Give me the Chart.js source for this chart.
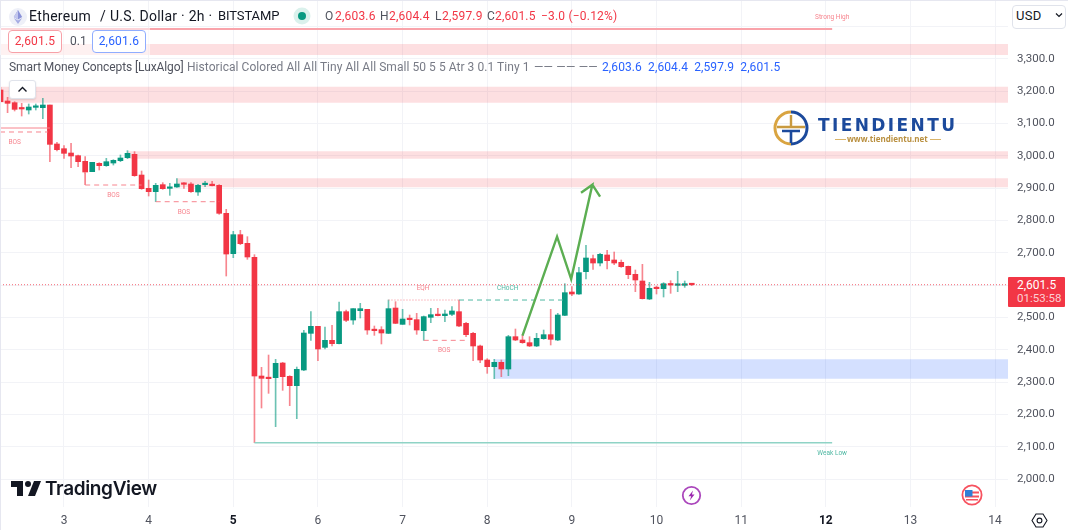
<!DOCTYPE html>
<html lang="en">
<head>
  <meta charset="UTF-8">
  <title>Ethereum / U.S. Dollar 2h</title>
  <script src="https://cdn.jsdelivr.net/npm/chart.js"></script>
  <style>
    html, body { margin: 0; padding: 0; background: #fff; overflow: hidden; }
    #wrap { position: relative; width: 1068px; height: 530px; font-family: Roboto, sans-serif; color: #131722; overflow: hidden; }
    #chart { position: absolute; left: 0; top: 0; }
    .abs { position: absolute; white-space: nowrap; }
    .dn { color: #f23645; }
    .gr { color: #50535e; }
    .box { position: absolute; top: 30px; height: 21px; line-height: 21px; width: 52px; text-align: center; background: #fff; border-radius: 4px; font-size: 12px; letter-spacing: .2px; }
    .ohlc { position: absolute; top: 8px; font-size: 12px; line-height: 16px; letter-spacing: .2px; white-space: nowrap; }
    .row3 { position: absolute; top: 59px; font-size: 12px; line-height: 17px; white-space: nowrap; }
  </style>
</head>
<body>
<div id="wrap">
  <canvas id="chart" width="1068" height="530"></canvas>

  <div class="abs" style="left:0;top:0;width:1068px;height:1px;background:#e6e7f0"></div>
  <div class="abs" style="left:0;top:0;width:1px;height:530px;background:#e6e7f0"></div>

  <!-- header -->
  <svg class="abs" style="left:8px;top:7px" width="20" height="20" viewBox="0 0 20 20">
    <circle cx="10" cy="10" r="9" fill="#eef0f8"/>
    <path d="M10 3l4.2 7L10 12.6 5.8 10z" fill="#8a92d8"/>
    <path d="M10 3v9.6L5.8 10z" fill="#c3c7ee"/>
    <path d="M10 13.6l4.2-2.6L10 17l-4.2-6z" fill="#a6ace3"/>
  </svg>
  <div class="abs" style="left:29px;top:7px;font-size:14px;line-height:18px;letter-spacing:.3px">Ethereum</div>
  <div class="abs" style="left:100px;top:7px;font-size:14px;line-height:18px;letter-spacing:.1px">/</div>
  <div class="abs" style="left:110px;top:7px;font-size:14px;line-height:18px;letter-spacing:.25px">U.S. Dollar · 2h ·</div>
  <div class="abs" style="left:218px;top:7px;font-size:13px;line-height:18px;letter-spacing:-.1px">BITSTAMP</div>
  <svg class="abs" style="left:293px;top:7px" width="18" height="18"><circle cx="9" cy="9" r="8.5" fill="#daf1ec"/><circle cx="9" cy="9" r="4" fill="#089981"/></svg>
  <span class="ohlc gr" style="left:325px">O</span><span class="ohlc dn" style="left:335px">2,603.6</span>
  <span class="ohlc gr" style="left:380px">H</span><span class="ohlc dn" style="left:389px">2,604.4</span>
  <span class="ohlc gr" style="left:435px">L</span><span class="ohlc dn" style="left:442px">2,597.9</span>
  <span class="ohlc gr" style="left:487px">C</span><span class="ohlc dn" style="left:495px">2,601.5</span>
  <span class="ohlc dn" style="left:541px">−3.0 (−0.12%)</span>

  <div class="abs" style="left:0;top:28px;width:150px;height:27px;background:rgba(255,255,255,.55)"></div>
  <div class="box dn" style="left:8px;border:1px solid #f7a1a8">2,601.5</div>
  <div class="abs gr" style="left:70px;top:33px;font-size:12px;line-height:16px">0.1</div>
  <div class="box" style="left:92px;color:#2962ff;border:1px solid #8fadff">2,601.6</div>

  <div class="row3" style="left:9px;color:#50535e;letter-spacing:-.1px">Smart Money Concepts [LuxAlgo]</div>
  <div class="row3" style="left:187px;color:#787b86;letter-spacing:.05px">Historical Colored All All Tiny All All Small 50 5 5 Atr 3 0.1 Tiny 1</div>
  <div class="row3" style="left:534px;color:#787b86;letter-spacing:.2px">—— —— ——</div>
  <div class="row3" style="left:602px;color:#2962ff;letter-spacing:.1px">2,603.6&nbsp; 2,604.4&nbsp; 2,597.9&nbsp; 2,601.5</div>

  <div class="abs" style="left:9px;top:80px;width:25px;height:17px;background:#fff;border:1px solid #e0e3eb;border-radius:3px;box-shadow:0 1px 2px rgba(0,0,0,.12)">
    <svg width="25" height="17"><path d="M8.5 10.5l4-4 4 4" fill="none" stroke="#131722" stroke-width="1.4"/></svg>
  </div>

  <!-- tiendientu logo -->
  <svg class="abs" style="left:773px;top:110px" width="36" height="36" viewBox="0 0 36 36">
    <path d="M18 2A16 16 0 0 0 18 34" fill="none" stroke="#d9a441" stroke-width="3"/>
    <path d="M18 2A16 16 0 0 1 18 34" fill="none" stroke="#1c4a9c" stroke-width="3"/>
    <path d="M4 17h28M18 5v12" stroke="#c99a3f" stroke-width="2.4" fill="none"/>
    <path d="M9 21h18M18 21v12" stroke="#1c4a9c" stroke-width="2.6" fill="none"/>
  </svg>
  <div class="abs" style="left:818px;top:115px;font:bold 17px/20px 'DejaVu Sans',sans-serif;letter-spacing:2.4px;color:#1c4a9c">TIENDIENTU</div>
  <div class="abs" style="left:835px;top:133px;width:11px;height:1px;margin-top:6px;background:#d9b46a"></div>
  <div class="abs" style="left:847px;top:133px;font:bold 8px/12px 'Open Sans',sans-serif;color:#b98f3e">www.tiendientu.net</div>
  <div class="abs" style="left:930px;top:133px;width:11px;height:1px;margin-top:6px;background:#d9b46a"></div>

  <!-- tradingview logo -->
  <svg class="abs" style="left:11px;top:479px" width="30" height="19" viewBox="2 5 30 17">
    <path d="M14 6H2v6h6v9h6V6Zm12 15h-7l6-15h7l-6 15Zm-7-9a3 3 0 1 0 0-6 3 3 0 0 0 0 6Z" fill="#131722"/>
  </svg>
  <div class="abs" style="left:45px;top:477px;font:600 19px/24px Inter,sans-serif;color:#131722;letter-spacing:-.35px">TradingView</div>

  <svg class="abs" style="left:681px;top:485px" width="21" height="21" viewBox="0 0 21 21">
    <circle cx="10.5" cy="10.5" r="8.7" fill="#fff" stroke="#ab47bc" stroke-width="1.8"/>
    <path d="M12 5.5L7.5 11.3h2.7L8.8 15.5l4.7-5.9h-2.6z" fill="#9c27b0"/>
  </svg>
  <svg class="abs" style="left:961px;top:484px" width="22" height="22" viewBox="0 0 22 22">
    <circle cx="11" cy="11" r="9.6" fill="#fff" stroke="#f7525f" stroke-width="1.8"/>
    <path d="M4 7.5h14v2H4zM4 11.5h14v2H4zM5 15h12v1.6H5z" fill="#f7525f"/>
    <path d="M4 6h7.5v6.5H4z" fill="#2e7fd6"/>
  </svg>

  <!-- right side boxes -->
  <div class="abs" style="left:1012px;top:5px;width:52px;height:22px;background:#fff;border:1px solid #e0e3eb;border-radius:4px"></div>
  <div class="abs" style="left:1016px;top:8px;font-size:13px;line-height:16px;color:#131722;letter-spacing:.3px">USD</div>
  <svg class="abs" style="left:1055px;top:12px" width="8" height="6"><path d="M1 1.5l3 3 3-3" fill="none" stroke="#131722" stroke-width="1.2"/></svg>

  <div class="abs" style="left:1008px;top:277px;width:57px;height:30px;background:#f23645;border-radius:1px"></div>
  <div class="abs" style="left:1017px;top:278px;font-size:12px;line-height:14px;color:#fff">2,601.5</div>
  <div class="abs" style="left:1017px;top:291px;font-size:11.5px;line-height:14px;color:#fcd0d4">01:53:58</div>

  <svg class="abs" style="left:1031px;top:512px" width="17" height="17" viewBox="0 0 17 17">
    <path d="M5 2h7l4 6.5-4 6.5H5L1 8.5z" fill="none" stroke="#131722" stroke-width="1.1"/>
    <circle cx="8.5" cy="8.5" r="2.4" fill="none" stroke="#131722" stroke-width="1.1"/>
  </svg>
</div>

<script>
  // candles, 2h bars, first bar is 9 bars before the "3" tick
  const firstBar = -9;
  const opens = [
    3203.4, 3169.4, 3164.2, 3146.7, 3141.6, 3149.8, 3148.8, 3157.0, 3036.5, 3022.0,
    3008.6, 3000.4, 2982.9, 2950.9, 2976.7, 2969.5, 2977.7, 2984.9, 2994.2, 3004.5,
    2940.6, 2899.4, 2889.1, 2910.8, 2899.4, 2903.6, 2913.9, 2912.8, 2888.1, 2910.8,
    2909.7, 2908.7, 2822.2, 2697.5, 2756.2, 2729.4, 2686.1, 2319.3, 2313.1, 2314.2,
    2359.5, 2318.3, 2289.4, 2337.9, 2451.2, 2472.8, 2407.9, 2429.6, 2419.3, 2518.2,
    2492.4, 2521.3, 2525.4, 2463.6, 2462.6, 2451.2, 2529.5, 2479.0, 2495.5, 2493.5,
    2459.5, 2500.7, 2507.9, 2505.9, 2510.0, 2518.2, 2482.1, 2451.2, 2412.1, 2368.8,
    2348.2, 2361.6, 2341.0, 2440.9, 2430.6, 2422.4, 2412.1, 2434.7, 2447.1, 2430.6,
    2506.8, 2579.0, 2572.8, 2641.8, 2682.0, 2668.6, 2693.4, 2677.9, 2670.7, 2658.3,
    2633.6, 2613.0, 2557.3, 2591.3, 2589.3, 2602.7, 2599.6, 2599.6, 2603.7
  ];
  const highs = [
    3211.6, 3180.7, 3167.3, 3162.2, 3160.1, 3160.1, 3177.6, 3157.0, 3041.6, 3031.3,
    3038.5, 3002.5, 2997.3, 2979.8, 2978.8, 2992.2, 2988.0, 3002.5, 3015.9, 3012.8,
    2953.0, 2925.2, 2914.9, 2917.0, 2914.9, 2929.3, 2917.0, 2917.0, 2911.8, 2921.1,
    2921.1, 2910.8, 2834.5, 2766.5, 2769.6, 2750.0, 2694.4, 2346.1, 2384.2, 2370.8,
    2361.6, 2320.3, 2347.1, 2460.5, 2518.2, 2472.8, 2470.8, 2475.9, 2548.1, 2523.3,
    2527.5, 2544.0, 2525.4, 2473.9, 2471.8, 2554.3, 2549.1, 2525.4, 2507.9, 2513.1,
    2504.8, 2528.5, 2528.5, 2523.4, 2533.7, 2554.3, 2485.2, 2454.3, 2415.2, 2372.9,
    2370.9, 2368.8, 2445.0, 2464.6, 2446.1, 2440.9, 2451.2, 2461.5, 2525.4, 2513.1,
    2604.7, 2595.5, 2655.2, 2723.2, 2693.4, 2698.5, 2707.8, 2702.6, 2677.9, 2659.3,
    2647.0, 2664.5, 2608.9, 2597.5, 2607.8, 2614.0, 2642.9, 2613.0, 2604.7
  ];
  const lows = [
    3167.3, 3133.3, 3138.5, 3123.0, 3129.2, 3141.6, 3114.8, 2981.8, 3014.8, 2992.2,
    2963.3, 2966.4, 2945.8, 2950.9, 2956.1, 2967.4, 2971.5, 2981.8, 2991.1, 2936.5,
    2896.3, 2875.7, 2858.2, 2896.3, 2877.8, 2902.5, 2899.4, 2887.1, 2877.8, 2904.6,
    2906.6, 2819.1, 2628.4, 2685.1, 2725.3, 2680.0, 2113.2, 2220.4, 2265.7, 2162.7,
    2275.0, 2227.6, 2187.4, 2335.8, 2429.6, 2366.7, 2402.8, 2412.1, 2418.2, 2487.3,
    2479.0, 2498.6, 2448.1, 2445.0, 2418.3, 2450.2, 2481.1, 2479.0, 2477.0, 2448.1,
    2429.6, 2484.2, 2504.8, 2487.3, 2505.9, 2471.8, 2440.9, 2366.7, 2360.6, 2327.6,
    2311.1, 2317.3, 2320.4, 2428.6, 2420.3, 2410.0, 2410.0, 2432.7, 2415.2, 2428.6,
    2505.8, 2567.6, 2571.8, 2619.2, 2649.0, 2659.3, 2650.1, 2663.5, 2655.2, 2620.2,
    2580.0, 2557.3, 2555.3, 2572.8, 2563.5, 2574.9, 2580.0, 2593.4, 2598.5
  ];
  const closes = [
    3167.3, 3162.2, 3143.6, 3144.7, 3150.8, 3151.9, 3157.0, 3035.4, 3018.9, 3007.6,
    2999.4, 2981.8, 2949.9, 2979.8, 2969.5, 2981.8, 2986.0, 2993.2, 3007.6, 2938.6,
    2898.4, 2889.1, 2908.7, 2898.4, 2903.6, 2912.8, 2911.8, 2889.1, 2908.7, 2911.8,
    2907.7, 2822.2, 2696.4, 2756.2, 2728.4, 2687.2, 2319.3, 2312.1, 2311.1, 2358.5,
    2317.2, 2289.4, 2339.9, 2452.2, 2472.8, 2402.8, 2429.6, 2419.3, 2518.2, 2491.4,
    2527.5, 2527.5, 2461.5, 2459.5, 2452.3, 2527.5, 2482.1, 2495.5, 2493.5, 2461.5,
    2502.8, 2508.9, 2505.9, 2511.0, 2520.3, 2473.9, 2447.1, 2412.1, 2368.8, 2348.2,
    2361.6, 2341.0, 2440.9, 2430.6, 2422.4, 2412.1, 2435.8, 2447.1, 2432.7, 2507.9,
    2576.9, 2572.8, 2638.8, 2684.1, 2668.6, 2695.4, 2675.8, 2668.6, 2657.3, 2632.6,
    2616.1, 2558.4, 2590.3, 2589.3, 2604.7, 2600.6, 2600.6, 2604.7, 2601.5
  ];

  const dayLabels = ['3', '4', '5', '6', '7', '8', '9', '10', '11', '12', '13', '14'];
  const boldDays = ['5', '12'];

  const xMin = -9.073, xMax = 133.83;
  const yMin = 1914.4, yMax = 3481.6;

  // supply / demand boxes: [from bar, top price, bottom price]
  const supplyZones = [
    [xMin, 3345.6, 3311.6],
    [xMin, 3213.6, 3164.1],
    [9, 3013.9, 2991.0],
    [16, 2930.4, 2902.6]
  ];
  const demandZones = [
    [61, 2370.9, 2311.0]
  ];

  const strongHigh = 3391.9;
  const weakLow = 2113.0;
  const structureEnd = 108.9;
  const lastPrice = 2601.5;

  // structure breaks: [from bar, to bar, price]
  const bosLines = [
    [xMin, -2.3, 3073.6],
    [3, 11, 2909.7],
    [13, 22, 2858.1],
    [51, 57.3, 2429.6]
  ];
  const oldLevel = [[xMin, 3085.9], [-2, 3085.9]];
  const bosBracket = [[3, 2950], [3, 2909.7]];
  const eqhLine = [46, 56, 2554.2];
  const chochLine = [56, 71, 2554.2];

  // the hand drawn arrow
  const arrowX = [65, 69.9, 71.9, 74.9, 73.3, 74.9, 76];
  const arrowY = [2443.9, 2749.9, 2619.1, 2910.7, 2885.9, 2910.7, 2873.6];

  const marks = [
    ['BOS', -7, 3042.6, '#f7848e'],
    ['BOS', 7, 2878.8, '#f7848e'],
    ['BOS', 17, 2825.3, '#f7848e'],
    ['BOS', 53.9, 2397.5, '#f7848e'],
    ['EQH', 50.9, 2591.3, '#f7848e'],
    ['CHoCH', 62.9, 2591.3, '#4fb8a3'],
    ['Strong High', 108.9, 3427.5, '#f7848e'],
    ['Weak Low', 108.9, 2080.3, '#4fb8a3']
  ];

  const RED = '#f23645', GREEN = '#089981';
  const barX = opens.map((o, i) => firstBar + i);
  const barColors = opens.map((o, i) => closes[i] < o ? RED : GREEN);
  const wickColors = opens.map((o, i) => closes[i] < o ? 'rgba(242,54,69,.6)' : 'rgba(8,153,129,.6)');

  function zone(z, color) {
    return {
      type: 'line',
      data: [{ x: z[0], y: z[1] }, { x: xMax, y: z[1] }],
      borderWidth: 0,
      pointRadius: 0,
      backgroundColor: color,
      fill: { value: z[2] },
      order: 20
    };
  }

  function level(points, color, width, dash) {
    return {
      type: 'line',
      data: points.map(p => ({ x: p[0], y: p[1] })),
      borderColor: color,
      borderWidth: width,
      borderDash: dash || [],
      pointRadius: 0,
      tension: 0,
      fill: false,
      order: 2
    };
  }

  const datasets = [
    ...supplyZones.map(z => zone(z, 'rgba(242,54,69,.16)')),
    ...demandZones.map(z => zone(z, 'rgba(41,98,255,.2)')),
    level([[xMin, lastPrice], [xMax, lastPrice]], 'rgba(242,54,69,.75)', 1, [1, 2]),
    level([[xMin, strongHigh], [structureEnd, strongHigh]], '#f9a3aa', 2),
    level([[27, weakLow], [structureEnd, weakLow]], '#8fd3c6', 1.6),
    level(oldLevel, '#f7848e', 1),
    level(bosBracket, '#f7848e', 1),
    ...bosLines.map(b => level([[b[0], b[2]], [b[1], b[2]]], '#f7848e', 1, [5, 4])),
    level([[eqhLine[0], eqhLine[2]], [eqhLine[1], eqhLine[2]]], '#f7848e', 1, [1, 2]),
    level([[chochLine[0], chochLine[2]], [chochLine[1], chochLine[2]]], '#4fb8a3', 1, [5, 4]),
    {
      type: 'bar',
      data: barX.map((x, i) => ({ x: x, y: [lows[i], highs[i]] })),
      backgroundColor: wickColors,
      barThickness: 1,
      grouped: false,
      order: 6
    },
    {
      type: 'bar',
      data: barX.map((x, i) => ({ x: x, y: [opens[i], closes[i]] })),
      backgroundColor: barColors,
      barThickness: 5,
      minBarLength: 1.5,
      grouped: false,
      order: 5
    },
    Object.assign(level(arrowX.map((x, i) => [x, arrowY[i]]), '#5cae52', 2.4), { order: 1, borderJoinStyle: 'miter' })
  ];

  // small SMC texts sit on the chart at bar/price positions
  const markLabels = {
    id: 'markLabels',
    afterDatasetsDraw(chart) {
      const ctx = chart.ctx;
      ctx.save();
      ctx.font = '6.5px Roboto, sans-serif';
      ctx.textAlign = 'center';
      ctx.textBaseline = 'middle';
      marks.forEach(m => {
        ctx.fillStyle = m[3];
        ctx.fillText(m[0], chart.scales.x.getPixelForValue(m[1]), chart.scales.y.getPixelForValue(m[2]));
      });
      ctx.restore();
    }
  };

  // font and colour options get asked for before the ticks exist
  function isBoldDay(c) {
    return !!c.tick && boldDays.includes(dayLabels[c.tick.value / 12]);
  }

  new Chart(document.getElementById('chart').getContext('2d'), {
    type: 'bar',
    data: { datasets },
    plugins: [markLabels],
    options: {
      responsive: false,
      animation: false,
      events: [],
      layout: { padding: 0 },
      plugins: { legend: { display: false }, tooltip: { enabled: false } },
      scales: {
        x: {
          type: 'linear',
          offset: false,
          min: xMin,
          max: xMax,
          afterFit(scale) {
            scale.height = 23;
            scale.paddingLeft = 0;
            scale.paddingRight = 0;
          },
          border: { display: false },
          grid: { color: '#f2f3f7', drawTicks: false, offset: false },
          ticks: {
            stepSize: 12,
            includeBounds: false,
            maxRotation: 0,
            autoSkip: false,
            padding: 7,
            callback: v => dayLabels[v / 12] || '',
            color: c => isBoldDay(c) ? '#131722' : '#50535e',
            font: c => ({
              family: 'Roboto, sans-serif',
              size: 12,
              weight: isBoldDay(c) ? 'bold' : 'normal'
            })
          }
        },
        y: {
          type: 'linear',
          position: 'right',
          min: yMin,
          max: yMax,
          afterFit(scale) {
            scale.width = 60;
            scale.paddingTop = 0;
            scale.paddingBottom = 0;
          },
          border: { display: false },
          grid: { color: '#f2f3f7', drawTicks: false },
          ticks: {
            stepSize: 100,
            includeBounds: false,
            autoSkip: false,
            padding: 9,
            color: '#50535e',
            font: { family: 'Roboto, sans-serif', size: 11.5 },
            callback: v => v > 3300 ? '' : v.toLocaleString('en-US', { minimumFractionDigits: 1 })
          }
        }
      }
    }
  });
</script>
</body>
</html>
